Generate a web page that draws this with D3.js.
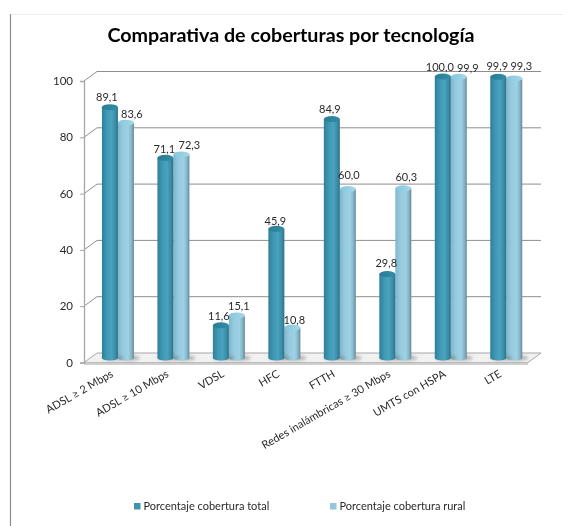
<!DOCTYPE html>
<html>
<head>
<meta charset="utf-8">
<script src="https://cdn.jsdelivr.net/npm/d3@7"></script>
<style>
html, body { margin: 0; padding: 0; background: #fff; }
text { font-family: Lato, "Open Sans", sans-serif; fill: #2a2a2a; }
</style>
</head>
<body>
<div id="chart"></div>
<script>
var categories = ["ADSL ≥ 2 Mbps", "ADSL ≥ 10 Mbps", "VDSL", "HFC", "FTTH",
    "Redes inalámbricas ≥ 30 Mbps", "UMTS con HSPA", "LTE"];
var seriesNames = ["Porcentaje cobertura total", "Porcentaje cobertura rural"];
var total = [89.1, 71.1, 11.6, 45.9, 84.9, 29.8, 100.0, 99.9];
var rural = [83.6, 72.3, 15.1, 10.8, 60.0, 60.3, 99.9, 99.3];
var yTicks = [0, 20, 40, 60, 80, 100];

var w = 563;
var h = 526;

// the 3d box: front wall, and how far the back wall is shifted
var depthX = 13;
var depthY = -9.5;
var barBase = 358;

var yFront = d3.scaleLinear().domain([0, 100]).range([362.5, 81]);
var yBar = d3.scaleLinear().domain([0, 100]).range([barBase, 76.5]);
var x0 = d3.scaleBand().domain(categories).range([90.2, 534]);
var barWidth = 16;

// labels that were moved by hand in the original, [dx, dy] per category
var nudgeTotal = [[-3, 0], [-1, 1], [-2, 1], [-1, 2], [-2, 0], [-1, -1], [-3, 0], [-1, -1]];
var nudgeRural = [[6, 1], [8, 1], [2, 1], [2, 2], [1, -4], [3, -1], [9, 1], [7, -2]];

var svg = d3.select("#chart")
    .append("svg")
    .attr("width", w)
    .attr("height", h)
    .style("display", "block")
    .style("filter", "blur(0.35px)");

var defs = svg.append("defs");

function gradient(id, stops) {
    var g = defs.append("linearGradient").attr("id", id)
        .attr("x1", 0).attr("x2", 1).attr("y1", 0).attr("y2", 0);
    stops.forEach(function (s) {
        g.append("stop").attr("offset", s[0]).attr("stop-color", s[1]);
    });
}
gradient("bodyTotal", [[0, "#2e7f97"], [0.3, "#3f97b3"], [0.6, "#49a3bf"], [0.85, "#3a8ba5"], [1, "#2b6f85"]]);
gradient("bodyRural", [[0, "#7fb6cb"], [0.3, "#95cadf"], [0.65, "#9dd1e5"], [0.85, "#85b4c6"], [1, "#64899a"]]);
gradient("topTotal", [[0, "#2a7c94"], [1, "#338da8"]]);
gradient("topRural", [[0, "#86c6dc"], [1, "#a3d8ea"]]);

var shadow = defs.append("filter").attr("id", "shadow")
    .attr("x", "-30%").attr("y", "-100%").attr("width", "160%").attr("height", "300%");
shadow.append("feGaussianBlur").attr("stdDeviation", 1.5);

// page edges of the pasted picture
svg.append("line").attr("x1", 10.5).attr("x2", 10.5).attr("y1", 14).attr("y2", h)
    .attr("stroke", "#8c8c8c").attr("stroke-width", 1.2);
svg.append("line").attr("x1", 11).attr("x2", w).attr("y1", 14.5).attr("y2", 14.5)
    .attr("stroke", "#efefef");

svg.append("text")
    .attr("x", 291)
    .attr("y", 41.5)
    .attr("text-anchor", "middle")
    .attr("font-size", "19.7px")
    .attr("font-weight", "bold")
    .style("fill", "#000")
    .text("Comparativa de coberturas por tecnología");

var plot = svg.append("g");

var x1 = 84;
var x2 = 528;

// floor
plot.append("path")
    .attr("d", d3.line()([
        [x1, yFront(0)], [x1 + depthX, yFront(0) + depthY],
        [x2 + depthX, yFront(0) + depthY], [x2, yFront(0)]
    ]) + "Z")
    .attr("fill", "#f1f1f1")
    .attr("stroke", "#a6a6a6");
plot.append("rect")
    .attr("x", x1).attr("y", yFront(0)).attr("width", x2 - x1).attr("height", 2.5)
    .attr("fill", "#cfcfcf");

// gridlines on the back wall + the little slant back to the axis
plot.selectAll(".grid")
    .data(yTicks.slice(1))
    .enter()
    .append("path")
    .attr("class", "grid")
    .attr("fill", "none")
    .attr("stroke", "#8e8e8e")
    .attr("d", function (d) {
        var y = yFront(d);
        return d3.line()([[x1, y], [x1 + depthX, y + depthY], [x2 + depthX, y + depthY]]);
    });

// y axis
var yAxis = d3.axisLeft(yFront)
    .tickValues(yTicks)
    .tickSize(4)
    .tickPadding(7)
    .tickFormat(d3.format("d"));
var gy = svg.append("g")
    .attr("transform", "translate(" + x1 + ",0)")
    .call(yAxis);
gy.select(".domain").attr("stroke", "#a6a6a6").attr("stroke-width", 1.3);
gy.selectAll(".tick line").attr("stroke", "#a6a6a6");
gy.selectAll("text").attr("font-size", "11.5px");

function drawSeries(values, offset, bodyId, topId) {
    var g = plot.append("g");

    // soft shadow on the floor
    g.selectAll(".shade")
        .data(values)
        .enter()
        .append("ellipse")
        .attr("class", "shade")
        .attr("cx", function (d, i) { return x0(categories[i]) + x0.bandwidth() / 2 + offset + 3; })
        .attr("cy", barBase)
        .attr("rx", barWidth / 2 + 3)
        .attr("ry", 3)
        .attr("fill", "#777")
        .attr("opacity", 0.45)
        .attr("filter", "url(#shadow)");

    g.selectAll(".body")
        .data(values)
        .enter()
        .append("path")
        .attr("class", "body")
        .attr("fill", "url(#" + bodyId + ")")
        .attr("d", function (d, i) {
            var cx = x0(categories[i]) + x0.bandwidth() / 2 + offset;
            var r = barWidth / 2;
            var top = yBar(d);
            return "M" + (cx - r) + "," + top +
                "L" + (cx - r) + "," + barBase +
                "A" + r + ",2.5 0 0 0 " + (cx + r) + "," + barBase +
                "L" + (cx + r) + "," + top + "Z";
        });

    g.selectAll(".cap")
        .data(values)
        .enter()
        .append("ellipse")
        .attr("class", "cap")
        .attr("cx", function (d, i) { return x0(categories[i]) + x0.bandwidth() / 2 + offset; })
        .attr("cy", function (d) { return yBar(d); })
        .attr("rx", barWidth / 2)
        .attr("ry", 3)
        .attr("fill", "url(#" + topId + ")");
}

// rural first so the dark cylinder sits on top of it
drawSeries(rural, 8, "bodyRural", "topRural");
drawSeries(total, -8, "bodyTotal", "topTotal");

var comma = function (d) { return d3.format(".1f")(d).replace(".", ","); };

function drawLabels(values, offset, nudge) {
    svg.append("g").selectAll("text")
        .data(values)
        .enter()
        .append("text")
        .attr("text-anchor", "middle")
        .attr("font-size", "11px")
        .attr("x", function (d, i) {
            return x0(categories[i]) + x0.bandwidth() / 2 + offset + nudge[i][0];
        })
        .attr("y", function (d, i) { return yBar(d) - 6 + nudge[i][1]; })
        .text(comma);
}
drawLabels(total, -8, nudgeTotal);
drawLabels(rural, 8, nudgeRural);

// category labels, slanted, anchored at their right end
svg.append("g").selectAll("text")
    .data(categories)
    .enter()
    .append("text")
    .attr("text-anchor", "end")
    .attr("font-size", "11px")
    .attr("transform", function (d) {
        return "translate(" + (x0(d) + x0.bandwidth() / 2 - 4) + ",376) rotate(-30)";
    })
    .text(function (d) { return d; });

// legend
var legendX = [134, 330];
var legendFill = ["#3f93ad", "#93c8dc"];
var legend = svg.append("g").selectAll("g")
    .data(seriesNames)
    .enter()
    .append("g")
    .attr("transform", function (d, i) { return "translate(" + legendX[i] + ",503)"; });
legend.append("rect")
    .attr("width", 6.5)
    .attr("height", 6.5)
    .attr("fill", function (d, i) { return legendFill[i]; });
legend.append("text")
    .attr("x", 9.5)
    .attr("y", 7)
    .attr("font-size", "11px")
    .text(function (d) { return d; });
</script>
</body>
</html>
